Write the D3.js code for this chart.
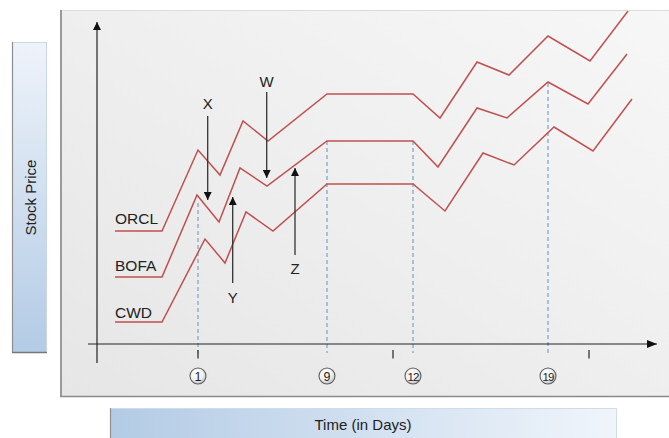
<!DOCTYPE html>
<html><head><meta charset="utf-8">
<script src="https://cdn.jsdelivr.net/npm/d3@7"></script>
<style>
html,body{margin:0;padding:0;background:#fff;}
svg{display:block;font-family:"Liberation Sans",Arial,Helvetica,sans-serif;}
</style></head>
<body>
<svg id="chart" width="669" height="438"></svg>
<script>
// ---- data (time units on x, price units on y) ----
const seriesNames = ["ORCL", "BOFA", "CWD"];
const orcl = [[1.8,11.3],[6.5,11.3],[10.1,19.4],[12.3,16.9],[14.6,22.3],[17.1,20.3],[23.0,25.0],[31.6,25.0],[34.3,22.6],[38.0,28.2],[41.2,26.9],[45.1,30.8],[49.3,28.3],[53.1,33.3]];
const bofa = [[1.8,6.7],[6.5,6.7],[10.0,14.9],[12.2,12.2],[14.3,17.6],[17.0,15.8],[23.0,20.3],[31.6,20.3],[34.1,17.7],[38.0,23.6],[41.0,22.6],[45.1,26.2],[49.1,24.0],[53.0,29.0]];
const cwd  = [[1.8,2.2],[6.5,2.2],[10.8,10.5],[12.8,8.1],[14.9,13.2],[17.6,11.3],[23.0,16.0],[31.6,16.0],[34.8,13.3],[38.6,19.1],[41.7,17.9],[45.7,21.7],[49.6,19.3],[53.5,24.5]];
const labelY = [12.6, 7.9, 3.2];            // series label positions (price units)
const dayLabels = ["1", "9", "12", "19"];
const dayX = [10.1, 23.0, 31.6, 45.1];
const dayTop = [14.1, 20.3, 20.3, 26.1];
const tickX = [10.1, 29.6, 49.2];
const arrowNames = ["X", "W", "Y", "Z"];
const arrowX = [11.07, 16.97, 13.57, 19.8];
const arrowFrom = [22.8, 25.2, 6.1, 8.9];
const arrowTo = [14.4, 16.6, 14.7, 17.6];
const arrowLabelY = [24.1, 26.3, 4.7, 7.6];

// ---- layout ----
const svg = d3.select("#chart");
const x = d3.scaleLinear().domain([0, 56]).range([97, 657]);
const y = d3.scaleLinear().domain([0, 33.4]).range([344, 10]);

const defs = svg.append("defs");
const pg = defs.append("linearGradient").attr("id","panelG").attr("x1","0").attr("y1","1").attr("x2","1").attr("y2","0");
pg.append("stop").attr("offset","0").attr("stop-color","#e6e6e6");
pg.append("stop").attr("offset","1").attr("stop-color","#f7f7f7");
const yg = defs.append("linearGradient").attr("id","yG").attr("x1","0").attr("y1","0").attr("x2","0").attr("y2","1");
yg.append("stop").attr("offset","0").attr("stop-color","#eef3fa");
yg.append("stop").attr("offset","1").attr("stop-color","#b3cbe5");
const xg = defs.append("linearGradient").attr("id","xG").attr("x1","0").attr("y1","0").attr("x2","1").attr("y2","0");
xg.append("stop").attr("offset","0").attr("stop-color","#b3cbe5");
xg.append("stop").attr("offset","1").attr("stop-color","#f0f5fb");
const cg = defs.append("radialGradient").attr("id","cG").attr("cx","0.4").attr("cy","0.35").attr("r","0.7");
cg.append("stop").attr("offset","0").attr("stop-color","#ffffff");
cg.append("stop").attr("offset","0.6").attr("stop-color","#f0f0f0");
cg.append("stop").attr("offset","1").attr("stop-color","#b5b5b5");
const ah = defs.append("marker").attr("id","ah").attr("viewBox","0 0 10 10").attr("refX","10").attr("refY","5")
  .attr("markerWidth","8").attr("markerHeight","8").attr("markerUnits","userSpaceOnUse").attr("orient","auto");
ah.append("path").attr("d","M0,0L10,5L0,10Z").attr("fill","#111");
const ah2 = defs.append("marker").attr("id","ah2").attr("viewBox","0 0 10 10").attr("refX","10").attr("refY","5")
  .attr("markerWidth","10").attr("markerHeight","10").attr("markerUnits","userSpaceOnUse").attr("orient","auto");
ah2.append("path").attr("d","M0,1L10,5L0,9Z").attr("fill","#111");
defs.append("clipPath").attr("id","clipP").append("rect").attr("x",61).attr("y",11).attr("width",620).attr("height",385);

// panel
svg.append("rect").attr("x",60).attr("y",10).attr("width",620).attr("height",387).attr("fill","url(#panelG)");
svg.append("line").attr("x1",60).attr("x2",669).attr("y1",10.5).attr("y2",10.5).attr("stroke","#dcdcdc").attr("stroke-width",1);
svg.append("line").attr("x1",61).attr("x2",61).attr("y1",10).attr("y2",397).attr("stroke","#9a9a9a").attr("stroke-width",2);
svg.append("line").attr("x1",60).attr("x2",669).attr("y1",396.5).attr("y2",396.5).attr("stroke","#8a8a8a").attr("stroke-width",1.5);

// y label box
svg.append("rect").attr("x",12.5).attr("y",42.5).attr("width",34).attr("height",310).attr("fill","url(#yG)").attr("stroke","#c9d6e4").attr("stroke-width",1);
svg.append("line").attr("x1",12.5).attr("x2",12.5).attr("y1",42).attr("y2",353).attr("stroke","#8e8e8e").attr("stroke-width",1.2);
svg.append("line").attr("x1",12).attr("x2",47).attr("y1",352.5).attr("y2",352.5).attr("stroke","#777").attr("stroke-width",1.5);
svg.append("text").attr("transform","translate(30,197.5) rotate(-90)").attr("text-anchor","middle").attr("dominant-baseline","central")
  .attr("font-size",15).attr("fill","#222").text("Stock Price");

// x label box
svg.append("rect").attr("x",110.5).attr("y",408.5).attr("width",506).attr("height",32).attr("fill","url(#xG)").attr("stroke","#cfdcea").attr("stroke-width",1);
svg.append("line").attr("x1",110.5).attr("x2",110.5).attr("y1",408).attr("y2",438).attr("stroke","#8e8e8e").attr("stroke-width",1.2);
svg.append("text").attr("x",363).attr("y",424).attr("text-anchor","middle").attr("dominant-baseline","central")
  .attr("font-size",15).attr("fill","#222").text("Time (in Days)");

const g = svg.append("g").attr("clip-path","url(#clipP)");

// dashed guides
g.selectAll("line.guide").data(dayX).join("line").attr("class","guide")
  .attr("x1",d=>x(d)).attr("x2",d=>x(d)).attr("y1",(d,i)=>y(dayTop[i])).attr("y2",y(-0.9))
  .attr("stroke","#8eabcc").attr("stroke-width",1.4).attr("stroke-dasharray","4,3");

// axes
g.append("line").attr("x1",x(0)).attr("x2",x(0)).attr("y1",y(-1.9)).attr("y2",y(32.2))
  .attr("stroke","#222").attr("stroke-width",1.2).attr("marker-end","url(#ah)");
g.append("line").attr("x1",x(-0.9)).attr("x2",x(56)).attr("y1",y(0)).attr("y2",y(0))
  .attr("stroke","#222").attr("stroke-width",1.2).attr("marker-end","url(#ah2)");
g.selectAll("line.tick").data(tickX).join("line").attr("class","tick")
  .attr("x1",d=>x(d)).attr("x2",d=>x(d)).attr("y1",y(-0.6)).attr("y2",y(-1.45))
  .attr("stroke","#333").attr("stroke-width",1.3);

// series lines
const line = d3.line().x(d=>x(d[0])).y(d=>y(d[1]));
const series = [orcl, bofa, cwd];
g.selectAll("path.series").data(series).join("path").attr("class","series")
  .attr("d",line).attr("fill","none").attr("stroke","#c0504f").attr("stroke-width",1.5).attr("stroke-linejoin","miter");
g.selectAll("text.sname").data(seriesNames).join("text").attr("class","sname")
  .attr("x",(d,i)=>x(series[i][0][0])).attr("y",(d,i)=>y(labelY[i])).attr("dominant-baseline","central")
  .attr("font-size",15.5).attr("fill","#222").text(d=>d);

// annotation arrows
g.selectAll("line.arr").data(arrowNames).join("line").attr("class","arr")
  .attr("x1",(d,i)=>x(arrowX[i])).attr("x2",(d,i)=>x(arrowX[i]))
  .attr("y1",(d,i)=>y(arrowFrom[i])).attr("y2",(d,i)=>y(arrowTo[i]))
  .attr("stroke","#333").attr("stroke-width",1.3).attr("marker-end","url(#ah)");
g.selectAll("text.alab").data(arrowNames).join("text").attr("class","alab")
  .attr("x",(d,i)=>x(arrowX[i])).attr("y",(d,i)=>y(arrowLabelY[i])).attr("text-anchor","middle").attr("dominant-baseline","central")
  .attr("font-size",15).attr("fill","#222").text(d=>d);

// day markers
const dm = g.selectAll("g.day").data(dayLabels).join("g").attr("class","day")
  .attr("transform",(d,i)=>`translate(${x(dayX[i])},${y(-3.2)})`);
dm.append("circle").attr("r",8).attr("fill","url(#cG)").attr("stroke","#5e5e5e").attr("stroke-width",1.1);
dm.append("text").attr("text-anchor","middle").attr("dominant-baseline","central").attr("y",0.5)
  .attr("font-size",d=>d.length>1?11.5:12.5).attr("letter-spacing",d=>d.length>1?"-1":"0").attr("fill","#222").text(d=>d);
</script>
</body></html>
